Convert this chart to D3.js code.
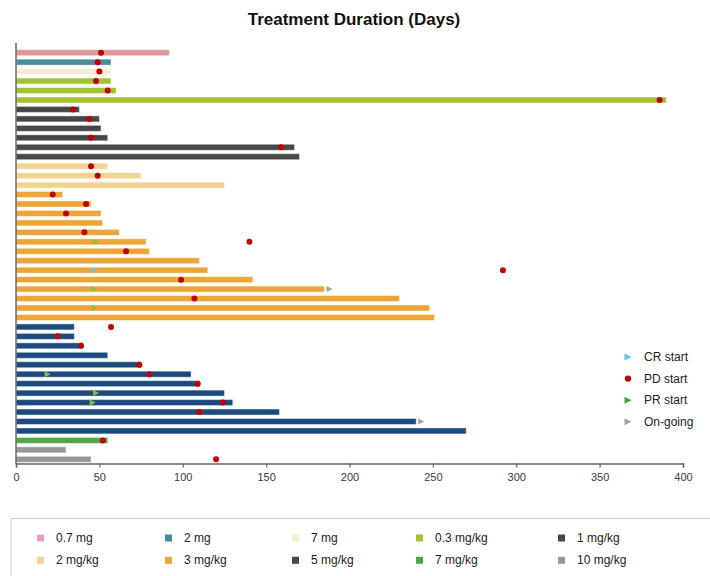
<!DOCTYPE html>
<html><head><meta charset="utf-8">
<script src="https://cdn.jsdelivr.net/npm/d3@7"></script>
<style>body{margin:0;background:#fff;}svg{display:block;font-family:"Liberation Sans",Arial,sans-serif;}</style>
</head><body><svg id="c" width="710" height="576"></svg>
<script>
// ---- data ----
const groups = ["0.7 mg","2 mg","7 mg","0.3 mg/kg","1 mg/kg","2 mg/kg","3 mg/kg","5 mg/kg","7 mg/kg","10 mg/kg"];
const barColors    = ["#DF959A","#4B8C9B","#FCEBD4","#A2C22E","#474747","#F1D28E","#EBA537","#1C4A7F","#4BA844","#979896"];
const legendColors = ["#E99BC4","#4B8C9B","#FCEBD4","#A2C22E","#474747","#F1D28E","#EBA537","#474747","#4BA844","#979896"];
const rowGroup = [0,1,2,3,3,3,4,4,4,4,4,4,5,5,5,6,6,6,6,6,6,6,6,6,6,6,6,6,6,7,7,7,7,7,7,7,7,7,7,7,7,8,9,9];
const duration = [92,57,57,57,60,390, 38,50,51,55,167,170, 55,75,125, 28,45,51,52,62,78,80,110,115,142,185,230,248,251, 35,35,40,55,75,105,110,125,130,158,240,270, 55, 30,45];
const pdStart  = [51,49,50,48,55,386, 34,44,null,45,159,null, 45,49,null, 22,42,30,null,41,140,66,null,292,99,null,107,null,null, 57,25,39,null,74,80,109,null,124,110,null,null, 52, null,120];
const prStart  = [null,null,null,null,null,null, null,null,null,null,null,null, null,null,null, null,null,null,null,null,48,null,null,null,null,47,null,47,null, null,null,null,null,null,19,null,48,46,null,null,null, null, null,null];
const crStart  = [null,null,null,null,null,null, null,null,null,null,null,null, null,null,null, null,null,null,null,null,null,null,null,47,null,null,null,null,null, null,null,null,null,null,null,null,null,null,null,null,null, null, null,null];
const ongoing  = [null,null,null,null,null,null, null,null,null,null,null,null, null,null,null, null,null,null,null,null,null,null,null,null,null,188,null,null,null, null,null,null,null,null,null,null,null,null,null,243,null, null, null,null];
const xTicks = [0,50,100,150,200,250,300,350,400];
const markerNames = ["CR start","PD start","PR start","On-going"];
const markerColors = ["#6DC0EA","#C00000","#3FA43F","#A3A3A3"];
const title = "Treatment Duration (Days)";

// ---- chart ----
const svg = d3.select("#c");
const x = d3.scaleLinear().domain([0,400]).range([16,683]);
const rows = d3.range(duration.length);
const y = d3.scalePoint().domain(rows).range([52.7,459.3]);
const barH = 6;
const prColor = "#8DC03A";

svg.append("text").attr("x",354).attr("y",25).attr("text-anchor","middle")
  .attr("font-size",17).attr("font-weight","bold").attr("fill","#111").text(title);

// bars
svg.append("g").selectAll("rect").data(rows).join("rect")
  .attr("x", x(0)).attr("y", i => y(i)-barH/2)
  .attr("width", i => x(duration[i]) - x(0)).attr("height", barH)
  .attr("fill", i => barColors[rowGroup[i]])
  .attr("stroke","rgba(255,255,255,0.45)").attr("stroke-width",1);

const tri = (cx,cy,s) => `M${cx-s/2},${cy-s/2}L${cx+s/2},${cy}L${cx-s/2},${cy+s/2}Z`;

// markers
const mk = svg.append("g");
rows.filter(i => crStart[i]!=null).forEach(i => mk.append("path").attr("d", tri(x(crStart[i]), y(i), 6)).attr("fill", markerColors[0]));
rows.filter(i => prStart[i]!=null).forEach(i => mk.append("path").attr("d", tri(x(prStart[i]), y(i), 6)).attr("fill", prColor));
rows.filter(i => ongoing[i]!=null).forEach(i => mk.append("path").attr("d", tri(x(ongoing[i]), y(i), 6)).attr("fill", markerColors[3]));
rows.filter(i => pdStart[i]!=null).forEach(i => mk.append("circle").attr("cx", x(pdStart[i])).attr("cy", y(i)).attr("r",3).attr("fill", markerColors[1]));

// axes
const ax = svg.append("g").attr("transform","translate(0,463.5)")
  .call(d3.axisBottom(x).tickValues(xTicks).tickSize(4).tickPadding(6).tickFormat(d3.format("d")));
ax.select(".domain").attr("stroke","#666").attr("stroke-width",1.5);
ax.selectAll(".tick line").attr("stroke","#666").attr("stroke-width",1.2);
ax.selectAll(".tick text").attr("font-size",11).attr("fill","#3a3a3a").attr("font-family","Liberation Sans, Arial, sans-serif");
svg.append("line").attr("x1",x(0)).attr("x2",x(0)).attr("y1",43).attr("y2",464)
  .attr("stroke","#666").attr("stroke-width",1.5);

// marker legend
const ml = svg.append("g");
markerNames.forEach((n,k) => {
  const cy = 357 + k*21.6;
  if (k===1) ml.append("circle").attr("cx",628).attr("cy",cy).attr("r",3.2).attr("fill",markerColors[k]);
  else ml.append("path").attr("d", tri(628, cy, 7)).attr("fill", markerColors[k]);
  ml.append("text").attr("x",644).attr("y",cy+4).attr("font-size",12).attr("fill","#222").text(n);
});

// group legend
svg.append("path").attr("d","M11,576V518.5H710").attr("fill","none").attr("stroke","#ccc").attr("stroke-width",1);
const colX = [37,165,292,416,558];
groups.forEach((g,k) => {
  const c = k%5, r = Math.floor(k/5);
  const cx = colX[c], cy = 538 + r*22.3;
  svg.append("rect").attr("x",cx).attr("y",cy-3.5).attr("width",7).attr("height",7).attr("fill",legendColors[k]);
  svg.append("text").attr("x",cx+19).attr("y",cy+4).attr("font-size",12).attr("fill","#222").text(g);
});
</script></body></html>
